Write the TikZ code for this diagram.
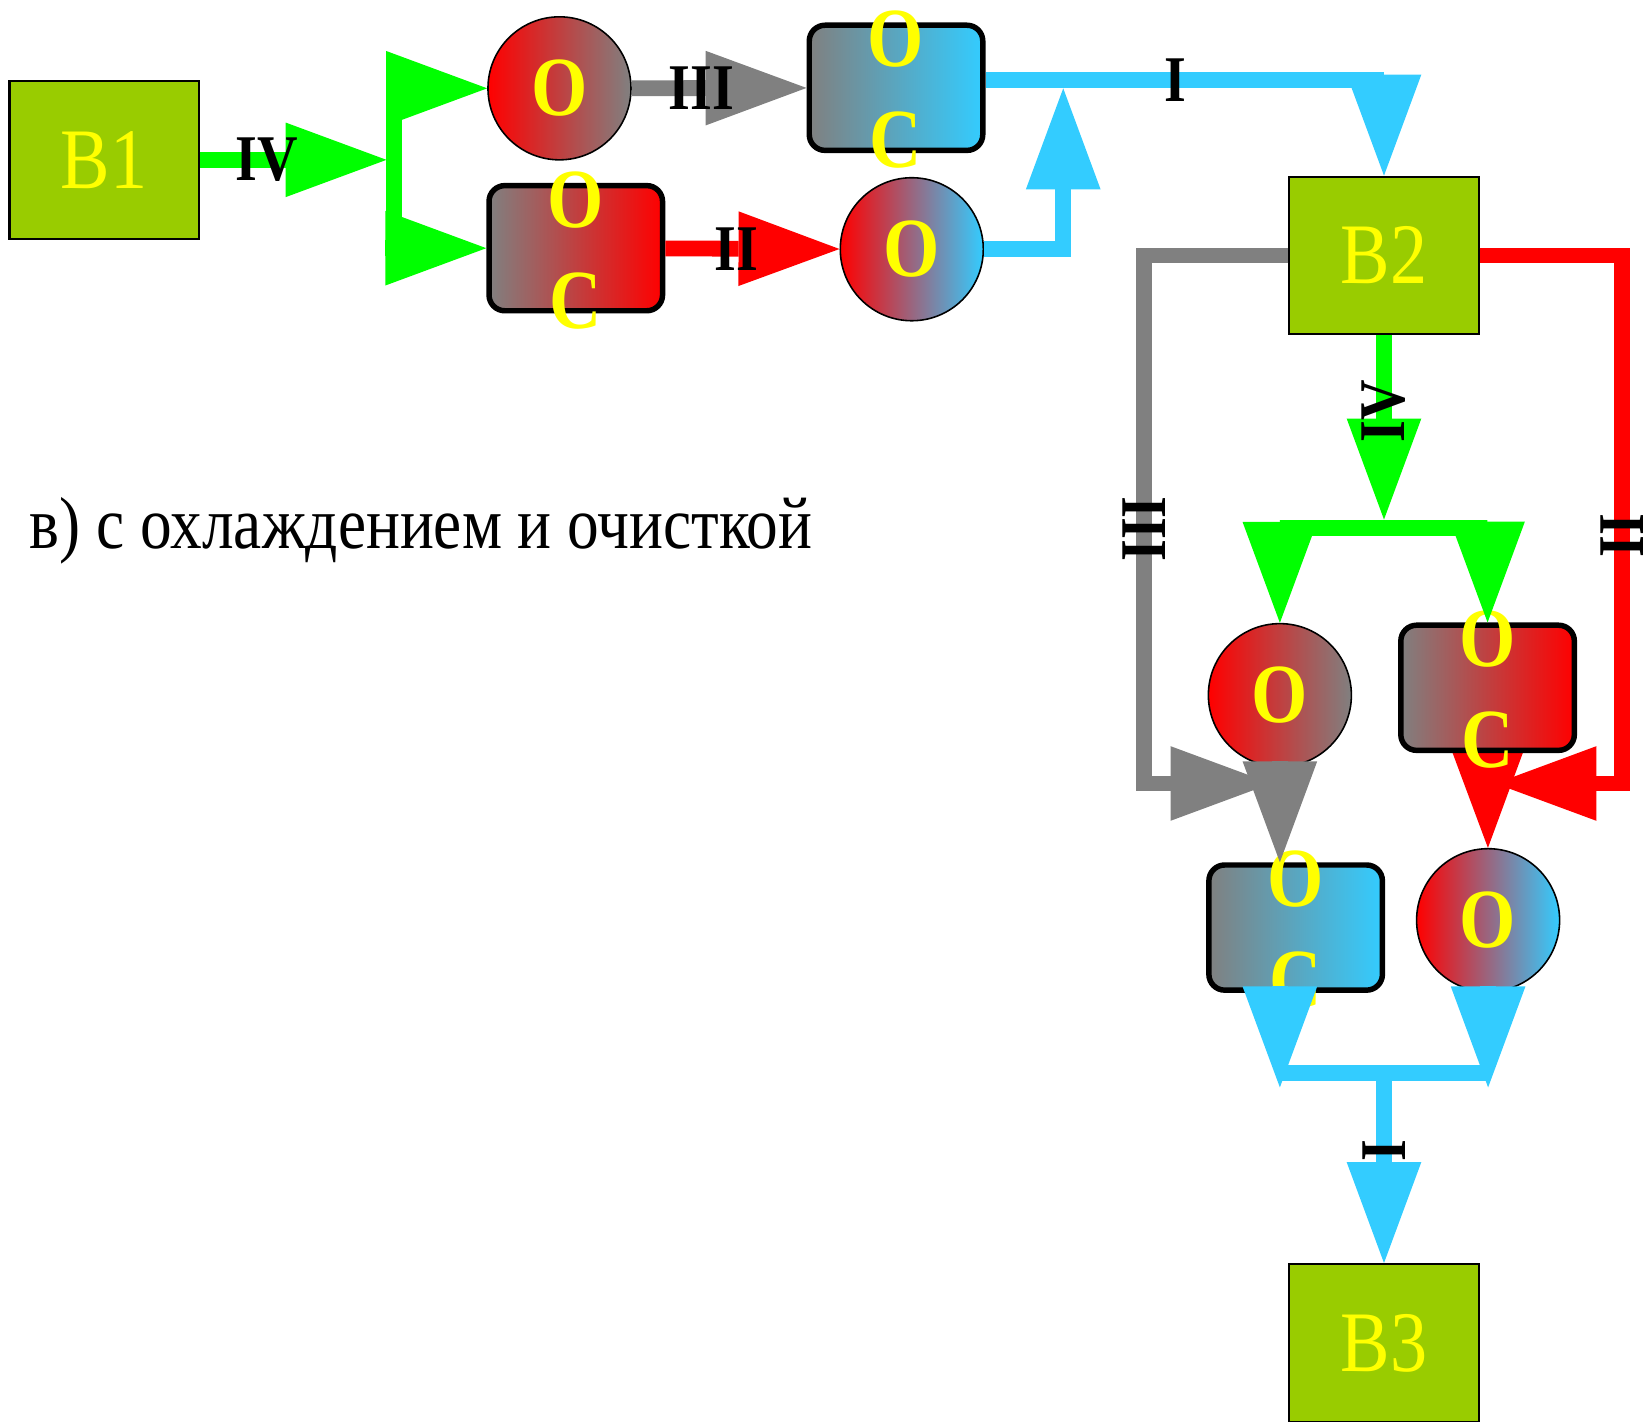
\documentclass[tikz,border=0pt]{standalone}
\usepackage{fontspec}
\setmainfont{Liberation Serif}[FakeStretch=0.86]
\usetikzlibrary{arrows.meta,positioning}
\definecolor{boxgreen}{RGB}{153,204,0}
\definecolor{txtyellow}{RGB}{255,255,0}
\definecolor{flowgreen}{RGB}{0,255,0}
\definecolor{flowred}{RGB}{255,0,0}
\definecolor{oilgray}{RGB}{128,128,128}
\definecolor{flowcyan}{RGB}{51,204,255}
\pgfdeclarelayer{back}
\pgfsetlayers{back,main}

\begin{document}
\begin{tikzpicture}[
    x=0.5pt, y=-0.5pt,
    bbox/.style={draw, line width=1pt, fill=boxgreen, minimum width=90pt, minimum height=75pt, inner sep=0pt, text=txtyellow, font=\fontsize{41}{41}\selectfont},
    cooler/.style={circle, draw, line width=0.75pt, minimum size=68pt, inner sep=0pt, left color=flowred, right color=#1, text=txtyellow, font=\bfseries\fontsize{40}{40}\selectfont},
    cleantxt/.style={inner sep=0pt, text=txtyellow, font=\bfseries\fontsize{40}{40}\selectfont},
    cleaner/.style={rectangle, draw, rounded corners=7.5pt, line width=2.6pt, minimum width=82.5pt, minimum height=59.5pt, inner sep=0pt, left color=oilgray, right color=#1,
      label={[cleantxt, yshift=23pt]center:O}, label={[cleantxt, yshift=-25pt]center:C}},
    flow/.style={draw=#1, line width=7.5pt, -{Triangle[length=48pt, width=35.5pt, line width=0pt]}},
    bar/.style={draw=#1, line width=7.5pt},
    num/.style={inner sep=0pt, text=black, font=\bfseries\fontsize{31}{31}\selectfont}
  ]
    \useasboundingbox (0,0) rectangle (1568,1352);
    \node[bbox] (B1) at (99,152) {B1};
    \node[bbox] (B2) at (1316,243) {B2};
    \node[bbox] (B3) at (1316,1277) {B3};
    \foreach \n/\x/\y/\c in {O1/532/84/oilgray, O2/867/237/flowcyan, O3/1217/661/oilgray, O4/1415/875/flowcyan}
      \node[cooler=\c] (\n) at (\x,\y) {O};
    \foreach \n/\x/\y/\c in {OC1/547.5/236/flowred, OC2/852/83.5/flowcyan, OC3/1414.5/654/flowred, OC4/1232/882/flowcyan}
      \node[cleaner=\c] (\n) at (\x,\y) {};
    \node[anchor=base west, inner sep=0pt, font=\fontsize{35}{35}\selectfont] (caption) at (28,522) {в) с охлаждением и очисткой};

    \coordinate (s1) at (374.5,152);
    \coordinate (j1) at (1011,84);
    \draw[flow=flowgreen] (B1) -- node[num, pos=0.36]{IV} ([xshift=-3.5pt]s1);
    \draw[flow=flowgreen] (s1) |- (O1);
    \draw[flow=flowgreen] (s1) |- (OC1);
    \draw[flow=oilgray] (O1) -- node[num, pos=0.4]{III} (OC2);
    \draw[flow=flowred] (OC1) -- node[num, pos=0.41]{II} (O2);
    \draw[flow=flowcyan] (O2) -| (j1);
    \draw[flow=flowcyan] ([yshift=3.75pt]OC2.east) -| node[num, pos=0.238]{I} (B2);

    \coordinate (g1) at (1088,745);
    \coordinate (j2) at (1209,745);
    \coordinate (r1) at (1542,745);
    \coordinate (j3) at (1422,745);
    \draw[flow=oilgray] (B2) -| node[num, rotate=90, pos=0.759]{III} (g1) -- (j2);
    \draw[flow=flowred] (B2) -| node[num, rotate=90, pos=0.765]{II} (r1) -- (j3);

    \coordinate (s2) at (1316,494);
    \coordinate (s2b) at (1316,502);
    \draw[flow=flowgreen] (B2) -- node[num, rotate=90, pos=0.41]{IV} (s2);
    \draw[flow=flowgreen] (s2b) -| (O3);
    \draw[flow=flowgreen] (s2b) -| (OC3);
    \draw[flow=oilgray] (O3) -- (O3 |- OC4.north);
    \begin{pgfonlayer}{back}
      \draw[flow=flowred] (OC3) -- (O4);
    \end{pgfonlayer}

    \coordinate (m1) at (1316,1020);
    \coordinate (m2) at (1217,1034);
    \coordinate (m3) at (1415,1034);
    \draw[flow=flowcyan] (OC4.south -| m2) -- (m2);
    \draw[flow=flowcyan] (O4) -- (m3);
    \draw[bar=flowcyan] (m2 |- m1) -- (m3 |- m1);
    \draw[flow=flowcyan] (m1) -- node[num, rotate=90, pos=0.41]{I} (B3);
  \end{tikzpicture}
\end{document}
